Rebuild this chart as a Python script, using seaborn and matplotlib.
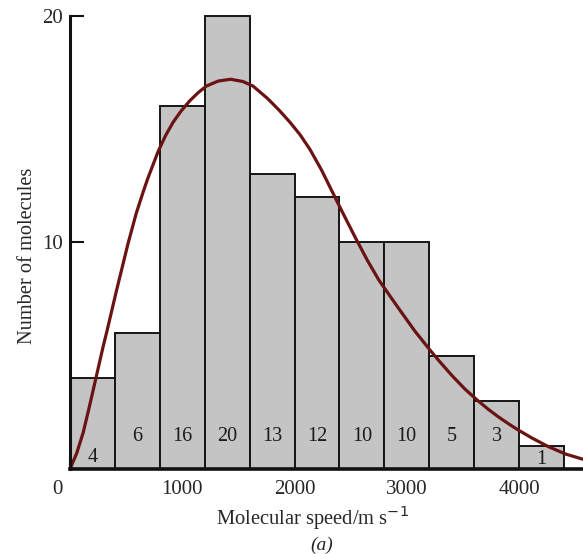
import numpy as np
import pandas as pd
import matplotlib
matplotlib.use("Agg")
import matplotlib.pyplot as plt
import matplotlib.transforms as mtransforms
import seaborn as sns

# histogram bins (speed / m s^-1) and molecule counts
bin_edges = [0, 400, 800, 1200, 1600, 2000, 2400, 2800, 3200, 3600, 4000, 4400]
counts = [4, 6, 16, 20, 13, 12, 10, 10, 5, 3, 1]
# label heights inside the bars (the 4 and 1 sit lower)
label_y = [0.5, 1.45, 1.45, 1.45, 1.45, 1.45, 1.45, 1.45, 1.45, 1.45, 0.4]

# curve
curve_speed = [0, 60, 117, 175, 235, 295, 330, 413, 470, 517, 591, 650, 695, 784,
               850, 918, 990, 1067, 1140, 1215, 1320, 1430, 1540, 1630, 1760, 1860,
               1960, 2050, 2138, 2240, 2345, 2420, 2538, 2650, 2750, 2820, 2933,
               3070, 3215, 3300, 3407, 3520, 3630, 3730, 3822, 3920, 4000, 4118,
               4260, 4415, 4570]
curve_count = [0, 0.7, 1.6, 2.8, 4.1, 5.4, 6.1, 7.85, 9.0, 9.95, 11.3, 12.2, 12.85, 14.0,
               14.7, 15.3, 15.8, 16.25, 16.6, 16.9, 17.12, 17.2, 17.1, 16.9, 16.35, 15.85,
               15.3, 14.75, 14.1, 13.2, 12.15, 11.4, 10.25, 9.2, 8.35, 7.85, 7.05,
               6.1, 5.2, 4.7, 4.1, 3.52, 3.03, 2.62, 2.28, 1.95, 1.7, 1.36,
               0.99, 0.66, 0.43]

centers = [(a + b) / 2 for a, b in zip(bin_edges[:-1], bin_edges[1:])]
df = pd.DataFrame({'speed': centers, 'count': counts})
curve = pd.DataFrame({'speed': curve_speed, 'count': curve_count})

sns.set_style("ticks")
plt.rcParams['font.family'] = ['Liberation Serif', 'DejaVu Serif']

fig = plt.figure(figsize=(5.83, 5.54), dpi=100)
ax = fig.add_axes([70/583, 85/554, 513/583, 460/554])

sns.histplot(data=df, x='speed', weights='count', bins=bin_edges, ax=ax,
             color='#c4c4c4', edgecolor='#151515', linewidth=1.4, alpha=1)
sns.lineplot(data=curve, x='speed', y='count', ax=ax, color='#6b1212',
             linewidth=2.3, sort=False)
ax.lines[-1].set_solid_joinstyle('round')

for x, c, ly in zip(centers, counts, label_y):
    ax.text(x, ly, str(c), ha='center', va='center', fontsize=14.5, color='#1a1a1a')

ax.set_xlim(0, 4570)
ax.set_ylim(0, 20.3)

for s in ['top', 'right']:
    ax.spines[s].set_visible(False)
ax.spines['left'].set_bounds(0, 20)
ax.spines['left'].set_linewidth(2.2)
ax.spines['bottom'].set_linewidth(2.6)
ax.spines['left'].set_color('#111111')
ax.spines['bottom'].set_color('#111111')

ax.set_yticks([10, 20])
ax.set_xticks([0, 1000, 2000, 3000, 4000])
ax.tick_params(axis='y', direction='in', length=10, width=1.5, pad=5, labelsize=15,
               color='#111111')
ax.tick_params(axis='x', direction='in', length=7, width=1.5, pad=8, labelsize=15,
               color='#111111')

# the 0 sits a little left of the corner
lab0 = ax.get_xticklabels()[0]
lab0.set_transform(lab0.get_transform() + mtransforms.ScaledTranslation(-0.13, 0, fig.dpi_scale_trans))

ax.set_ylabel('Number of molecules', fontsize=14.7)
ax.yaxis.set_label_coords(-0.064, 0.463)
ax.set_xlabel('Molecular speed/m s$^{-1}$', fontsize=14.8)
ax.xaxis.set_label_coords(0.472, -0.074)
ax.text(0.49, -0.165, '(a)', transform=ax.transAxes, ha='center', va='center',
        fontsize=14, style='italic')

fig.savefig('out.png', dpi=100)
